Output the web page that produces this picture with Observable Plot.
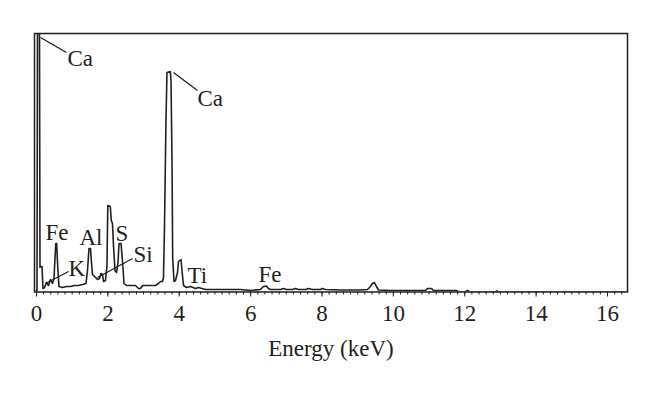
<!DOCTYPE html>
<html>
<head>
<meta charset="utf-8">
<script src="https://cdn.jsdelivr.net/npm/d3@7"></script>
<script src="https://cdn.jsdelivr.net/npm/@observablehq/plot@0.6"></script>
<style>
  html, body { margin: 0; padding: 0; background: #ffffff; }
</style>
</head>
<body>
<div id="chart"></div>
<script>
// Spectrum: energy (keV) and counts (arbitrary units)
const energy = [0.000, 0.014, 0.028, 0.084, 0.098, 0.112, 0.154, 0.182, 0.224, 0.280, 0.336, 0.392, 0.448, 0.490, 0.518, 0.541, 0.566, 0.583, 0.602, 0.630,
  0.728, 0.841, 0.953, 1.065, 1.177, 1.289, 1.387, 1.429, 1.471, 1.513, 1.541, 1.569, 1.625, 1.709, 1.765, 1.807, 1.849, 1.877, 1.933, 1.975,
  1.998, 2.068, 2.096, 2.129, 2.157, 2.199, 2.242, 2.284, 2.312, 2.368, 2.396, 2.424, 2.452, 2.522, 2.634, 2.774, 2.858, 2.914, 2.970, 3.194,
  3.334, 3.418, 3.474, 3.530, 3.558, 3.586, 3.628, 3.656, 3.749, 3.769, 3.797, 3.816, 3.853, 3.895, 3.951, 3.979, 4.049, 4.077, 4.119, 4.203,
  4.315, 4.455, 4.539, 4.735, 5.015, 5.296, 5.716, 5.996, 6.276, 6.360, 6.444, 6.500, 6.556, 6.837, 6.921, 7.005, 7.173, 7.257, 7.341, 7.537,
  7.621, 7.733, 7.957, 8.013, 8.097, 8.518, 9.078, 9.274, 9.358, 9.414, 9.470, 9.526, 9.582, 9.918, 10.479, 10.899, 10.955, 11.067, 11.123, 11.459,
  11.768, 11.824, 12.000, 12.080, 12.150, 12.850, 12.900, 12.950, 16.500];
const counts = [15, 15, 2600, 2600, 245, 255, 255, 35, 45, 95, 65, 125, 85, 135, 335, 485, 485, 335, 215, 55,
  45, 55, 55, 65, 65, 75, 85, 215, 435, 435, 295, 175, 155, 125, 135, 185, 175, 105, 115, 265,
  865, 855, 715, 685, 465, 215, 195, 295, 485, 485, 365, 235, 85, 65, 65, 65, 35, 35, 65, 65,
  65, 85, 105, 105, 145, 645, 1715, 2195, 2205, 2115, 1315, 345, 105, 115, 195, 305, 325, 215, 65, 45,
  55, 35, 45, 25, 25, 25, 25, 15, 25, 55, 60, 35, 25, 25, 35, 25, 25, 35, 25, 25,
  35, 25, 25, 35, 25, 20, 20, 25, 55, 85, 95, 55, 20, 15, 15, 15, 35, 35, 15, 15,
  15, 0, 0, 15, 0, 0, 12, 0, 0];

// Axis ticks
const majorTicks = [0, 2, 4, 6, 8, 10, 12, 14, 16];
const minorTicks = d3.range(0, 83).map(i => +(i * 0.2).toFixed(1));

// Element labels (anchor in keV / counts)
const labelText = ["Ca", "Ca", "Fe", "Al", "S", "Si", "K", "Ti", "Fe"];
const labelEnergy = [0.869, 4.511, 0.252, 1.205, 2.213, 2.718, 0.897, 4.231, 6.22];
const labelCounts = [2265, 1865, 525, 475, 515, 305, 165, 95, 105];

// Leader lines: from peak to label
const leaderE1 = [0.112, 3.839, 1.709, 0.252];
const leaderC1 = [2545, 2195, 145, 85];
const leaderE2 = [0.841, 4.511, 2.69, 0.897];
const leaderC2 = [2395, 2015, 335, 205];

const spectrum = energy.map((e, i) => ({e, c: counts[i]}));
const labels = labelText.map((t, i) => ({t, e: labelEnergy[i], c: labelCounts[i]}));
const leaders = leaderE1.map((e, i) => ({e1: e, c1: leaderC1[i], e2: leaderE2[i], c2: leaderC2[i]}));

const ink = "#231f20";

const chart = Plot.plot({
  width: 660,
  height: 397,
  marginLeft: 34,
  marginRight: 33,
  marginTop: 33,
  marginBottom: 105.5,
  style: {fontFamily: "'Liberation Serif', 'DejaVu Serif', serif", fontSize: "23px", color: ink, background: "#ffffff"},
  x: {domain: [-0.056, 16.56]},
  y: {domain: [0, 2585], axis: null},
  marks: [
    Plot.line(spectrum, {x: "e", y: "c", stroke: ink, strokeWidth: 1.6, clip: true}),
    Plot.link(leaders, {x1: "e1", y1: "c1", x2: "e2", y2: "c2", stroke: ink, strokeWidth: 1.3}),
    Plot.text(labels, {x: "e", y: "c", text: "t", textAnchor: "start", lineAnchor: "bottom", fill: ink, fontSize: 23}),
    Plot.axisX({ticks: minorTicks, tickSize: 3, tickFormat: () => "", label: null, stroke: ink}),
    Plot.axisX({ticks: majorTicks, tickSize: 5, tickPadding: 8, fontSize: 23, stroke: ink, fill: ink,
      label: "Energy (keV)", labelAnchor: "center", labelOffset: 64, labelArrow: "none"}),
    Plot.frame({stroke: ink, strokeWidth: 1.5})
  ]
});
document.getElementById("chart").appendChild(chart);
</script>
</body>
</html>
